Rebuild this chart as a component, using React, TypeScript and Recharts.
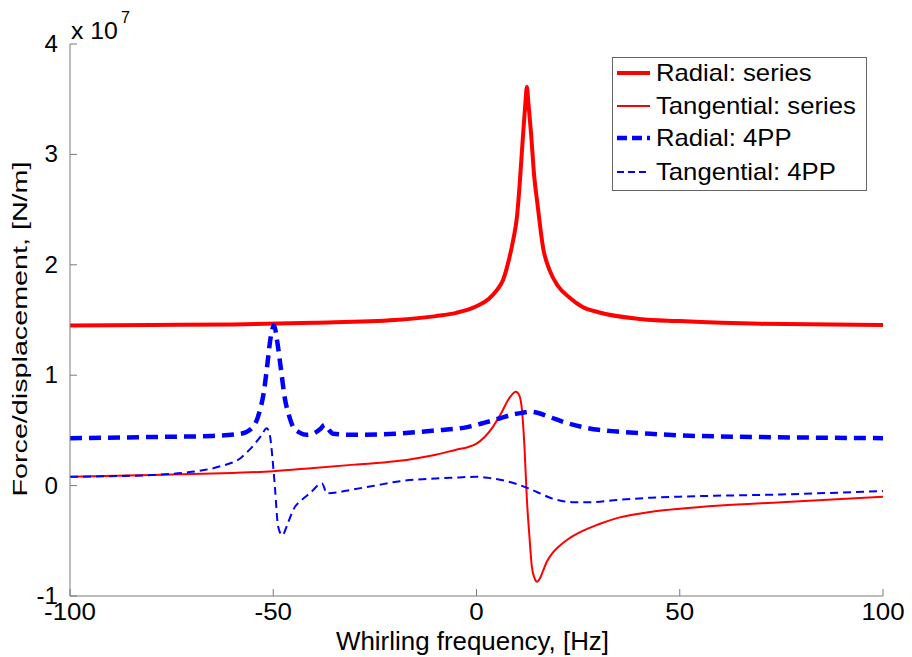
import React from "react";
import { LineChart, Line, XAxis, YAxis, Legend } from "recharts";

// Values in units of 10^7 N/m
const radialSeriesFreq = [-100, -80, -60, -40, -20, -10, -5, 0, 3, 5, 6.5, 8, 9, 10, 10.6, 11.4, 12, 12.4, 12.8, 13.4, 14.2, 15, 16.4, 18, 20, 23, 26, 30, 40, 50, 70, 100];
const radialSeriesVal = [1.45, 1.455, 1.46, 1.475, 1.5, 1.535, 1.565, 1.625, 1.69, 1.77, 1.86, 2.05, 2.22, 2.45, 2.72, 3.15, 3.45, 3.61, 3.45, 3.2, 2.8, 2.55, 2.15, 1.95, 1.81, 1.7, 1.62, 1.57, 1.51, 1.49, 1.465, 1.455];

const tangSeriesFreq = [-100, -80, -60, -50, -40, -30, -20, -10, -5, -2, 0, 2, 4, 6, 8.2, 9.7, 10.5, 11.2, 11.8, 12.4, 13, 13.6, 14.3, 14.9, 15.6, 16.4, 17.3, 18.5, 20, 22.3, 25, 28, 30.4, 35, 42.7, 50, 60, 75, 100];
const tangSeriesVal = [0.08, 0.095, 0.115, 0.13, 0.16, 0.19, 0.22, 0.28, 0.325, 0.35, 0.38, 0.44, 0.53, 0.65, 0.8, 0.85, 0.82, 0.68, 0.35, -0.13, -0.45, -0.73, -0.84, -0.87, -0.84, -0.77, -0.69, -0.62, -0.56, -0.49, -0.43, -0.38, -0.345, -0.29, -0.24, -0.21, -0.18, -0.15, -0.1];

const radial4ppFreq = [-100, -80, -65, -58, -55, -53.3, -52.3, -51.6, -50.6, -49.8, -49, -48.3, -47.1, -46, -45.1, -43.5, -41.7, -40.2, -38.5, -37.3, -36.2, -35.3, -31, -20, -10, -2.3, 2, 5.8, 9, 11.4, 13.2, 15, 18.1, 22, 26.2, 30, 34.6, 42.7, 50, 70, 100];
const radial4ppVal = [0.43, 0.44, 0.45, 0.47, 0.53, 0.68, 0.85, 1.05, 1.35, 1.45, 1.3, 1.11, 0.78, 0.62, 0.53, 0.48, 0.46, 0.47, 0.51, 0.55, 0.5, 0.47, 0.46, 0.47, 0.5, 0.53, 0.57, 0.61, 0.645, 0.66, 0.67, 0.66, 0.62, 0.57, 0.53, 0.505, 0.49, 0.47, 0.455, 0.44, 0.43];

const tang4ppFreq = [-100, -90, -80, -70, -63, -58, -55.7, -53, -51.6, -50.8, -50.2, -49.6, -48.8, -47.8, -46.5, -45.1, -43, -41, -38, -36.8, -34, -31.1, -25, -18.8, -10, -6.5, 0, 3, 7.5, 12.4, 15, 18.1, 21, 23.7, 28, 34.6, 42.7, 50, 75, 100];
const tang4ppVal = [0.08, 0.085, 0.095, 0.125, 0.175, 0.25, 0.33, 0.45, 0.52, 0.45, 0.25, -0.01, -0.37, -0.45, -0.35, -0.22, -0.13, -0.07, 0.02, -0.07, -0.06, -0.04, 0.0, 0.04, 0.065, 0.07, 0.08, 0.07, 0.04, -0.02, -0.06, -0.11, -0.14, -0.15, -0.15, -0.13, -0.11, -0.1, -0.08, -0.05];

const xTicks = [-100, -50, 0, 50, 100];
const yTicks = [-1, 0, 1, 2, 3, 4];

const seriesNames = ["Radial: series", "Tangential: series", "Radial: 4PP", "Tangential: 4PP"];

const toData = (fs: number[], vs: number[]) => fs.map((f, i) => ({ f, v: vs[i] }));
const dRS = toData(radialSeriesFreq, radialSeriesVal);
const dTS = toData(tangSeriesFreq, tangSeriesVal);
const dR4 = toData(radial4ppFreq, radial4ppVal);
const dT4 = toData(tang4ppFreq, tang4ppVal);

const FONT = "'Liberation Sans', Arial, sans-serif";
const AXIS = "#7a7a7a";

const styles = [
  { color: "#ff0000", width: 4, dash: undefined as string | undefined },
  { color: "#ff0000", width: 2, dash: undefined as string | undefined },
  { color: "#0000ff", width: 4.5, dash: "12 7" },
  { color: "#0000ff", width: 2, dash: "8 5" },
];

const XTick = (props: any) => {
  const { x, y, payload } = props;
  return (
    <g>
      <line x1={x} y1={y} x2={x} y2={y - 7} stroke={AXIS} strokeWidth={1} />
      <text
        transform={`translate(${x},${y + 24}) scale(1.08,1)`}
        textAnchor="middle"
        fontFamily={FONT}
        fontSize={24}
        fill="#000"
      >
        {payload.value}
      </text>
    </g>
  );
};

const YTick = (props: any) => {
  const { x, y, payload } = props;
  return (
    <g>
      <line x1={x} y1={y} x2={x + 7} y2={y} stroke={AXIS} strokeWidth={1} />
      <text
        transform={`translate(${x - 12},${y + 8}) scale(1.05,1)`}
        textAnchor="end"
        fontFamily={FONT}
        fontSize={23}
        fill="#000"
      >
        {payload.value}
      </text>
    </g>
  );
};

const YLabel = (props: any) => {
  const vb = props.viewBox || { x: 0, y: 44, width: 70, height: 552 };
  const cy = vb.y + vb.height / 2 + 9;
  return (
    <g>
      <text
        transform={`translate(${vb.x + vb.width + 1},${vb.y - 5}) scale(1.08,1)`}
        fontFamily={FONT}
        fontSize={23}
        fill="#000"
      >
        x 10
      </text>
      <text x={vb.x + vb.width + 51} y={vb.y - 21} fontFamily={FONT} fontSize={16} fill="#000">
        7
      </text>
      <text
        transform={`translate(${vb.x + 27},${cy}) rotate(-90)`}
        textAnchor="middle"
        fontFamily={FONT}
        fontSize={21}
        textLength={335}
        lengthAdjust="spacingAndGlyphs"
        fill="#000"
      >
        Force/displacement, [N/m]
      </text>
    </g>
  );
};

const XLabel = (props: any) => {
  const vb = props.viewBox || { x: 70, y: 596, width: 813, height: 61 };
  return (
    <text
      x={vb.x + vb.width / 2 - 4}
      y={vb.y + 54}
      textAnchor="middle"
      fontFamily={FONT}
      fontSize={25}
      textLength={273}
      lengthAdjust="spacingAndGlyphs"
      fill="#000"
    >
      Whirling frequency, [Hz]
    </text>
  );
};

const LegendBox = () => {
  const rows = [16, 49, 81, 115];
  return (
    <svg width={256} height={135} style={{ display: "block" }}>
      <rect x={0.5} y={0.5} width={254} height={133} fill="#fff" stroke="#666" strokeWidth={1} />
      {seriesNames.map((n, i) => (
        <g key={n}>
          <line
            x1={5}
            x2={38}
            y1={rows[i]}
            y2={rows[i]}
            stroke={styles[i].color}
            strokeWidth={styles[i].width}
            strokeDasharray={i === 2 ? "10 5" : i === 3 ? "7 4" : undefined}
          />
          <text
            transform={`translate(44,${rows[i] + 8}) scale(1.07,1)`}
            fontFamily={FONT}
            fontSize={24}
            fill="#000"
          >
            {n}
          </text>
        </g>
      ))}
    </svg>
  );
};

export default function App() {
  return (
    <div style={{ position: "absolute", left: 0, top: 0, width: 912, height: 657, background: "#fff" }}>
      <LineChart width={912} height={657} margin={{ top: 44, right: 29, bottom: 0, left: 0 }}>
        <XAxis
          type="number"
          dataKey="f"
          domain={[-100, 100]}
          ticks={xTicks}
          allowDataOverflow
          height={61}
          stroke={AXIS}
          tickLine={false}
          tickSize={0}
          tickMargin={0}
          tick={<XTick />}
          label={<XLabel />}
        />
        <YAxis
          type="number"
          dataKey="v"
          domain={[-1, 4]}
          ticks={yTicks}
          allowDataOverflow
          width={70}
          stroke={AXIS}
          tickLine={false}
          tickSize={0}
          tickMargin={0}
          tick={<YTick />}
          label={<YLabel />}
        />
        <Legend
          layout="vertical"
          align="center"
          verticalAlign="middle"
          content={<LegendBox />}
          wrapperStyle={{ left: 612, top: 57, width: 256, height: 135 }}
        />
        {[dRS, dTS, dR4, dT4].map((d, i) => (
          <Line
            key={seriesNames[i]}
            data={d}
            dataKey="v"
            name={seriesNames[i]}
            type="monotone"
            stroke={styles[i].color}
            strokeWidth={styles[i].width}
            strokeDasharray={styles[i].dash}
            dot={false}
            activeDot={false}
            isAnimationActive={false}
          />
        ))}
      </LineChart>
    </div>
  );
}
